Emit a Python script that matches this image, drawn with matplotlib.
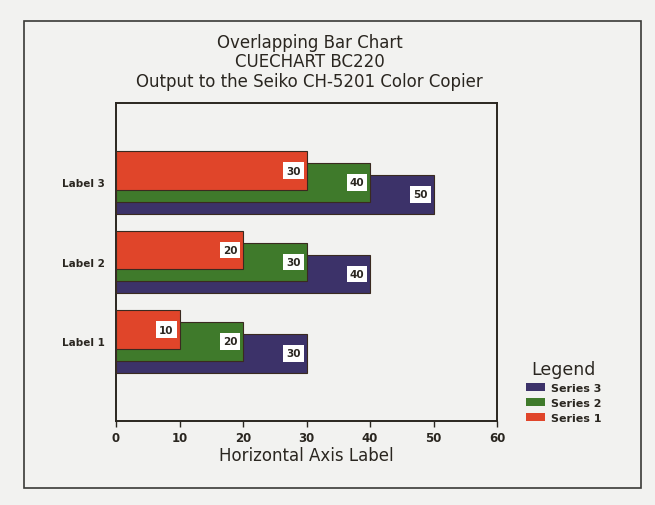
import matplotlib
matplotlib.use('Agg')
import matplotlib.pyplot as plt
from matplotlib.patches import Rectangle, Patch

# chart data
categories = ['Label 1', 'Label 2', 'Label 3']
series_names = ['Series 1', 'Series 2', 'Series 3']
series_values = [
    [10, 20, 30],   # Series 1
    [20, 30, 40],   # Series 2
    [30, 40, 50],   # Series 3
]
series_colors = ['#e0452a', '#3f7a2b', '#3c3269']
x_ticks = [0, 10, 20, 30, 40, 50, 60]
title_lines = ['Overlapping Bar Chart', 'CUECHART BC220',
               'Output to the Seiko CH-5201 Color Copier']

paper = '#f2f2f0'
ink = '#2a2620'

fig = plt.figure(figsize=(6.55, 5.06), dpi=100, facecolor=paper)
ax = fig.add_axes([116 / 655, 1 - 422 / 506, 381 / 655, 318 / 506])
ax.set_facecolor(paper)

bar_h = 0.48
step = 0.15
ypos = list(range(1, len(categories) + 1))

# draw back to front: series 3 lowest, series 1 on top
for i in reversed(range(len(series_names))):
    offs = step - i * step
    ys = [y + offs for y in ypos]
    ax.barh(ys, series_values[i], height=bar_h, color=series_colors[i],
            edgecolor='#3a2a20', linewidth=0.8, zorder=2 + (3 - i))
    for y, v in zip(ys, series_values[i]):
        ax.text(v - 0.9, y, str(v), ha='right', va='center',
                fontsize=7.5, fontweight='bold', color=ink,
                zorder=10 + (3 - i),
                bbox=dict(boxstyle='square,pad=0.3', fc='white',
                          ec='none'))

ax.set_xlim(0, 60)
ax.set_ylim(0.0, 4.0)
ax.set_xticks(x_ticks)
ax.set_xticklabels([str(t) for t in x_ticks], fontsize=8.5,
                   fontweight='bold', color=ink)
ax.set_yticks(ypos)
ax.set_yticklabels(categories, fontsize=7.5, fontweight='bold', color=ink)
ax.tick_params(axis='x', direction='out', length=4, width=1, color=ink,
               pad=3)
ax.tick_params(axis='y', length=0, pad=8)
for s in ax.spines.values():
    s.set_color(ink)
    s.set_linewidth(1.4)
ax.set_xlabel('Horizontal Axis Label', fontsize=12, color=ink, labelpad=2)

fig.text(0.473, 0.877, '\n'.join(title_lines), ha='center', va='center',
         fontsize=12, color=ink, linespacing=1.1)

handles = [Patch(facecolor=series_colors[i], edgecolor='none',
                 label=series_names[i]) for i in reversed(range(3))]
leg = fig.legend(handles=handles, title='Legend', loc='upper left',
                 bbox_to_anchor=(0.796, 0.295), frameon=False,
                 fontsize=8, title_fontsize=12.5, handlelength=1.7,
                 handleheight=0.7, labelspacing=0.45, handletextpad=0.6,
                 borderaxespad=0.0)
for t in leg.get_texts():
    t.set_fontweight('bold')
    t.set_color(ink)
leg.get_title().set_color(ink)

# outer frame of the printed sheet
fig.patches.append(Rectangle((24 / 655, 1 - 489 / 506), 617 / 655, 467 / 506,
                             transform=fig.transFigure, fill=False,
                             ec='#3a3a36', lw=1.2))

fig.savefig('out.png', dpi=100, facecolor=paper)
